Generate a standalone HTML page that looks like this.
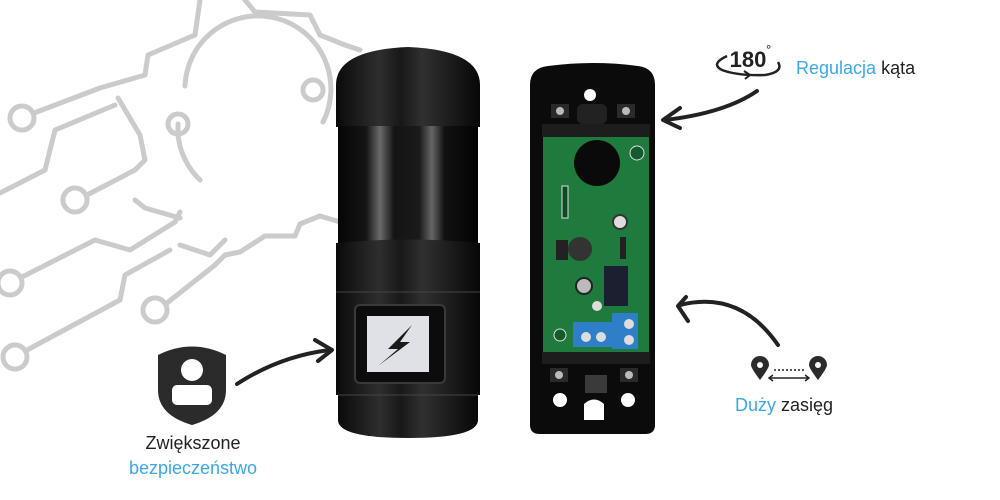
<!DOCTYPE html>
<html><head><meta charset="utf-8"><style>
html,body{margin:0;padding:0;background:#fff;}
svg{display:block;}
text{font-family:"Liberation Sans","DejaVu Sans",sans-serif;}
</style></head><body>
<svg width="1000" height="500" viewBox="0 0 1000 500" xmlns="http://www.w3.org/2000/svg">
<defs>
<linearGradient id="cyl" x1="0" x2="1" y1="0" y2="0">
<stop offset="0" stop-color="#0a0a0a"/><stop offset="0.3" stop-color="#2e2e2e"/><stop offset="0.45" stop-color="#181818"/><stop offset="0.6" stop-color="#303030"/><stop offset="1" stop-color="#070707"/>
</linearGradient>
<linearGradient id="mid" x1="0" x2="1" y1="0" y2="0">
<stop offset="0" stop-color="#050505"/><stop offset="0.2" stop-color="#151515"/><stop offset="0.3" stop-color="#6a6a6a"/><stop offset="0.4" stop-color="#141414"/><stop offset="0.58" stop-color="#1a1a1a"/><stop offset="0.67" stop-color="#666"/><stop offset="0.76" stop-color="#111"/><stop offset="1" stop-color="#030303"/>
</linearGradient>
</defs>
<g fill="none" stroke="#cbcbcb" stroke-width="5" stroke-linecap="round" stroke-linejoin="round">
<path d="M185 86 A73 73 0 1 1 323 122"/>
<circle cx="313" cy="90" r="10"/>
<path d="M178 124 L178 135 A73 73 0 0 0 200 180"/>
<circle cx="178" cy="124" r="10"/>
<circle cx="22" cy="118" r="12"/>
<path d="M34 113 L100 88 L145 75 L148 55 L195 35 L200 0"/>
<path d="M0 193 L45 170 L55 130 L115 105"/>
<circle cx="75" cy="200" r="12"/>
<path d="M87 195 L135 170 L140 165 L145 160 L140 135 L118 98"/>
<circle cx="10" cy="283" r="12"/>
<path d="M22 277 L95 240 L130 250 L175 222 L180 212"/>
<path d="M135 200 L145 208 L180 218"/>
<circle cx="15" cy="357" r="12"/>
<path d="M27 350 L120 300 L125 275 L170 250"/>
<circle cx="155" cy="310" r="12"/>
<path d="M167 303 L215 265 L225 255 L240 252 L265 236 L295 236 L300 224 L320 216 L340 222"/>
<path d="M245 0 L255 12 L310 15 L320 35 L345 45 L360 50"/>
<path d="M180 245 L210 255 L225 240"/>
</g>
<path d="M336 127 L336 85 Q336 50 408 47 Q480 50 480 85 L480 127 Z" fill="url(#cyl)"/>
<rect x="338" y="126" width="140" height="117" fill="url(#mid)"/>
<path d="M336 243 Q408 236 480 243 L480 293 L336 293 Z" fill="url(#cyl)"/>
<rect x="336" y="292" width="144" height="103" fill="url(#cyl)"/>
<path d="M338 395 L478 395 L478 420 Q478 438 408 438 Q338 438 338 420 Z" fill="url(#cyl)"/>
<line x1="336" y1="292" x2="480" y2="292" stroke="#444" stroke-width="1"/>
<line x1="338" y1="395" x2="478" y2="395" stroke="#444" stroke-width="1"/>
<rect x="355" y="305" width="90" height="78" rx="5" fill="#0c0c0c" stroke="#3a3a3a" stroke-width="2"/>
<rect x="367" y="316" width="62" height="56" fill="#dfe1e6"/>
<path d="M412 325 L388 349 L398 349 L378 366 L410 342 L400 342 Z" fill="#1a1a1a"/>
<path d="M237 384 Q280 356 330 350" fill="none" stroke="#222" stroke-width="4" stroke-linecap="round"/>
<path d="M315 340 L332 350 L318 361" fill="none" stroke="#222" stroke-width="4" stroke-linecap="round" stroke-linejoin="round"/>
<path d="M158 355 Q192 338 226 355 L226 390 Q226 415 192 425 Q158 415 158 390 Z" fill="#2b2b2b"/>
<circle cx="192" cy="370" r="11" fill="#fff"/>
<rect x="172" y="385" width="40" height="20" rx="5" fill="#fff"/>
<text x="193" y="449" font-size="18" fill="#222" text-anchor="middle">Zwiększone</text>
<text x="193" y="474" font-size="18" fill="#3aa8e8" text-anchor="middle">bezpieczeństwo</text>
<path d="M530 85 Q530 68 548 66 Q593 60 638 66 Q655 68 655 85 L655 425 Q655 434 645 434 L540 434 Q530 434 530 425 Z" fill="#0b0b0b"/>
<circle cx="590" cy="95" r="6" fill="#fff"/>
<rect x="551" y="104" width="18" height="14" fill="#2a2a2a"/><circle cx="560" cy="111" r="4" fill="#bbb"/>
<rect x="617" y="104" width="18" height="14" fill="#2a2a2a"/><circle cx="626" cy="111" r="4" fill="#bbb"/>
<rect x="577" y="104" width="30" height="20" rx="6" fill="#222"/>
<rect x="542" y="124" width="108" height="13" fill="#1d1d1d"/>
<rect x="543" y="137" width="106" height="215" fill="#1f7a3d"/>
<circle cx="597" cy="163" r="23" fill="#0a0a0a"/>
<circle cx="637" cy="153" r="7" fill="#145a2c" stroke="#ddd" stroke-width="1"/>
<rect x="562" y="186" width="6" height="32" fill="#0d4a22" stroke="#ddd" stroke-width="1"/>
<circle cx="580" cy="249" r="12" fill="#333"/>
<rect x="556" y="240" width="12" height="20" fill="#222"/>
<circle cx="620" cy="222" r="7" fill="#ddd" stroke="#333" stroke-width="2"/>
<rect x="620" y="237" width="6" height="22" fill="#222"/>
<rect x="604" y="266" width="24" height="40" fill="#1a2030"/>
<circle cx="584" cy="286" r="8" fill="#bbb" stroke="#222" stroke-width="2"/>
<circle cx="597" cy="306" r="5" fill="#ddd"/>
<rect x="573" y="322" width="40" height="25" fill="#2f7ec8"/>
<rect x="612" y="313" width="26" height="36" fill="#2f7ec8"/>
<circle cx="586" cy="337" r="5" fill="#ddd"/><circle cx="601" cy="337" r="5" fill="#ddd"/>
<circle cx="629" cy="324" r="5" fill="#ddd"/><circle cx="629" cy="340" r="5" fill="#ddd"/>
<circle cx="560" cy="335" r="6" fill="#145a2c" stroke="#ddd" stroke-width="1"/>
<rect x="542" y="352" width="108" height="12" fill="#1d1d1d"/>
<rect x="550" y="368" width="18" height="14" fill="#2a2a2a"/><circle cx="559" cy="375" r="4" fill="#bbb"/>
<rect x="620" y="368" width="18" height="14" fill="#2a2a2a"/><circle cx="629" cy="375" r="4" fill="#bbb"/>
<rect x="585" y="375" width="22" height="18" fill="#3a3a3a"/>
<circle cx="560" cy="400" r="7" fill="#fff"/><circle cx="628" cy="400" r="7" fill="#fff"/>
<path d="M584 420 L584 404 Q594 395 604 404 L604 420 Z" fill="#fff"/>
<text x="748" y="67" font-size="22" font-weight="bold" fill="#222" text-anchor="middle">180</text>
<text x="766" y="54" font-size="13" fill="#222">°</text>
<path d="M727 56 Q710 64 722 70 Q738 76 765 75 Q784 72 778 62" fill="none" stroke="#222" stroke-width="2.5"/>
<path d="M744 71 L750 75 L745 79" fill="none" stroke="#222" stroke-width="2"/>
<text x="796" y="74" font-size="18" fill="#3aa8e8">Regulacja <tspan fill="#222">kąta</tspan></text>
<path d="M757 91 Q725 113 665 120" fill="none" stroke="#222" stroke-width="4" stroke-linecap="round"/>
<path d="M680 108 L663 120 L680 128" fill="none" stroke="#222" stroke-width="4" stroke-linecap="round" stroke-linejoin="round"/>
<path d="M778 345 Q740 290 680 305" fill="none" stroke="#222" stroke-width="4" stroke-linecap="round"/>
<path d="M686 297 L678 306 L688 321" fill="none" stroke="#222" stroke-width="4" stroke-linecap="round" stroke-linejoin="round"/>
<path d="M760 380 Q751 368 751 365 A9 9 0 1 1 769 365 Q769 368 760 380 Z" fill="#2b2b2b"/>
<circle cx="760" cy="365" r="3" fill="#fff"/>
<path d="M818 380 Q809 368 809 365 A9 9 0 1 1 827 365 Q827 368 818 380 Z" fill="#2b2b2b"/>
<circle cx="818" cy="365" r="3" fill="#fff"/>
<line x1="774" y1="370" x2="804" y2="370" stroke="#222" stroke-width="1.5" stroke-dasharray="2 2"/>
<line x1="770" y1="378" x2="808" y2="378" stroke="#222" stroke-width="1.5"/>
<path d="M773 375 L769 378 L773 381 M805 375 L809 378 L805 381" fill="none" stroke="#222" stroke-width="1.5"/>
<text x="735" y="411" font-size="18" fill="#3aa8e8">Duży <tspan fill="#222">zasięg</tspan></text>
</svg>
</body></html>
